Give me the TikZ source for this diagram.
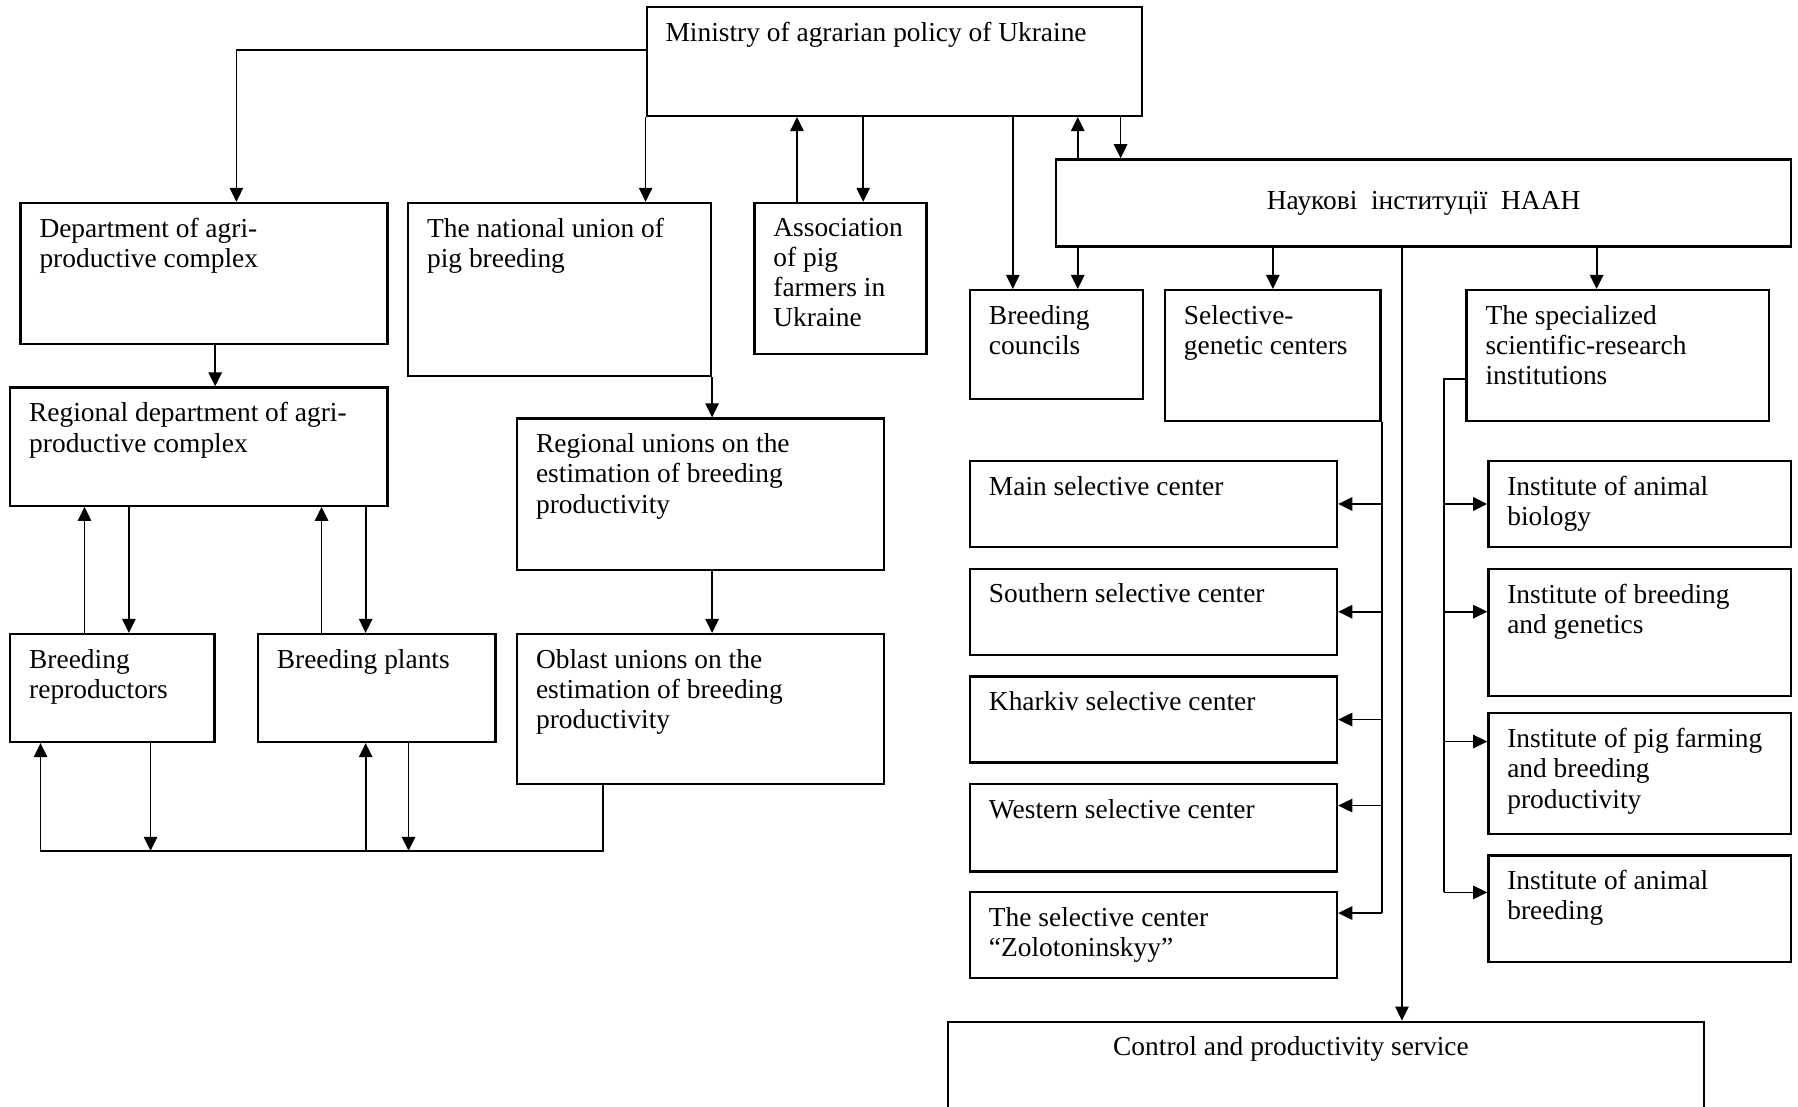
\documentclass[tikz,border=0pt]{standalone}
\usepackage{fontspec}
\setmainfont{Liberation Serif}
\usepackage{tikz}
\usetikzlibrary{positioning, fit, calc, arrows.meta}

\begin{document}
\begin{tikzpicture}[x=0.11467mm, y=-0.11467mm, font=\fontsize{7.8pt}{8.6pt}\selectfont,
	unit/.style={draw, line width=0.65pt, inner sep=0pt},
	caption/.style={anchor=north west, align=left, inner xsep=5.5pt, inner ysep=4.4pt},
	bus/.style={line width=0.5pt},
	link/.style={line width=0.5pt, -{Triangle[length=4pt, width=3.8pt]}}]
	\useasboundingbox (0,0) rectangle (1568,965);
	\clip (0,0) rectangle (1568,965);

	\node[unit, fit={(564,6) (996,101)}, label={[caption]north west:Ministry of agrarian policy of Ukraine}] (ministry) {};
	\node[unit, fit={(18,177) (338,300)}, label={[caption]north west:{Department of agri-\\productive complex}}] (dept) {};
	\node[unit, fit={(356,177) (620,328)}, label={[caption]north west:{The national union of\\pig breeding}}] (natunion) {};
	\node[unit, fit={(658,177) (808,309)}, label={[caption]north west:{Association\\of pig\\farmers in\\Ukraine}}] (assoc) {};
	\node[unit, fit={(921,139) (1562,215)}, label={[anchor=center]center:Наукові\ \ інституції\ \ НААН}] (haan) {};
	\node[unit, fit={(846,253) (997,348)}, label={[caption]north west:{Breeding\\councils}}] (councils) {};
	\node[unit, fit={(1016,253) (1204,367)}, label={[caption]north west:{Selective-\\genetic centers}}] (selgen) {};
	\node[unit, fit={(1279,253) (1543,367)}, label={[caption]north west:{The specialized\\scientific-research\\institutions}}] (special) {};

	\node[unit, fit={(9,338) (338,441)}, label={[caption]north west:{Regional department of agri-\\productive complex}}] (regdept) {};
	\node[unit, fit={(451,365) (771,497)}, label={[caption]north west:{Regional unions on the\\estimation of breeding\\productivity}}] (regunion) {};
	\node[unit, fit={(9,553) (187,647)}, label={[caption]north west:{Breeding\\reproductors}}] (reprod) {};
	\node[unit, fit={(225,553) (432,647)}, label={[caption]north west:Breeding plants}] (plants) {};
	\node[unit, fit={(451,553) (771,684)}, label={[caption]north west:{Oblast unions on the\\estimation of breeding\\productivity}}] (oblast) {};

	\node[unit, fit={(846,402) (1166,477)}, label={[caption]north west:Main selective center}] (main) {};
	\node[unit, fit={(846,496) (1166,571)}, label={[caption]north west:Southern selective center}] (southern) {};
	\node[unit, fit={(846,590) (1166,665)}, label={[caption]north west:Kharkiv selective center}] (kharkiv) {};
	\node[unit, fit={(846,684) (1166,760)}, label={[caption]north west:Western selective center}] (western) {};
	\node[unit, fit={(846,778) (1166,853)}, label={[caption]north west:{The selective center\\“Zolotoninskyy”}}] (zolot) {};

	\node[unit, fit={(1298,402) (1562,477)}, label={[caption]north west:{Institute of animal\\biology}}] (instbio) {};
	\node[unit, fit={(1298,496) (1562,607)}, label={[caption]north west:{Institute of breeding\\and genetics}}] (instbg) {};
	\node[unit, fit={(1298,622) (1562,727)}, label={[caption]north west:{Institute of pig farming\\and breeding\\productivity}}] (instpig) {};
	\node[unit, fit={(1298,746) (1562,839)}, label={[caption]north west:{Institute of animal\\breeding}}] (instab) {};

	\node[unit, fit={(827,891) (1486,985)}, label={[caption, xshift=14.6mm]north west:Control and productivity service}] (control) {};

	% ministry and the top row
	\draw[link] ($(ministry.north west)!0.4!(ministry.south west)$) -| ($(dept.north west)!0.5875!(dept.north east)$);
	\draw[link] (ministry.south west) -- (ministry.south west |- natunion.north);
	\coordinate (as-up) at ($(assoc.north west)!0.25!(assoc.north east)$);
	\coordinate (as-dn) at ($(assoc.north west)!0.63!(assoc.north east)$);
	\draw[link] (as-up) -- (as-up |- ministry.south);
	\draw[link] (as-dn |- ministry.south) -- (as-dn);

	\coordinate (bc-1) at ($(councils.north west)!0.25!(councils.north east)$);
	\coordinate (bc-2) at ($(councils.north west)!0.62!(councils.north east)$);
	\coordinate (ha-dn) at ($(haan.north west)!0.089!(haan.north east)$);
	\draw[link] (bc-1 |- ministry.south) -- (bc-1);
	\draw[link] (bc-2 |- haan.north) -- (bc-2 |- ministry.south);
	\draw[link] (ha-dn |- ministry.south) -- (ha-dn);

	% from the institutions of NAAS
	\coordinate (sp-in) at ($(special.north west)!0.43!(special.north east)$);
	\coordinate (ct-in) at ($(control.north west)!0.6!(control.north east)$);
	\draw[link] (bc-2 |- haan.south) -- (bc-2);
	\draw[link] (haan.south -| selgen.north) -- (selgen.north);
	\draw[link] (sp-in |- haan.south) -- (sp-in);
	\draw[link] (ct-in |- haan.south) -- (ct-in);

	% selective centers
	\coordinate (sc-4) at ($(western.north east)!0.25!(western.south east)$);
	\coordinate (sc-5) at ($(zolot.north east)!0.25!(zolot.south east)$);
	\draw[bus] (selgen.south east) -- (selgen.south east |- sc-5);
	\draw[link] (selgen.south east |- main.east) -- (main.east);
	\draw[link] (selgen.south east |- southern.east) -- (southern.east);
	\draw[link] (selgen.south east |- kharkiv.east) -- (kharkiv.east);
	\draw[link] (selgen.south east |- sc-4) -- (sc-4);
	\draw[link] (selgen.south east |- sc-5) -- (sc-5);

	% institutes
	\coordinate (sp-out) at ($(special.north west)!0.675!(special.south west)$);
	\coordinate (bus-r) at ($(sp-out)+(-19,0)$);
	\coordinate (in-2) at ($(instbg.north west)!0.34!(instbg.south west)$);
	\coordinate (in-3) at ($(instpig.north west)!0.24!(instpig.south west)$);
	\coordinate (in-4) at ($(instab.north west)!0.35!(instab.south west)$);
	\draw[bus] (sp-out) -- (bus-r) -- (bus-r |- in-4);
	\draw[link] (bus-r |- instbio.west) -- (instbio.west);
	\draw[link] (bus-r |- in-2) -- (in-2);
	\draw[link] (bus-r |- in-3) -- (in-3);
	\draw[link] (bus-r |- in-4) -- (in-4);

	% left part
	\coordinate (dp-out) at ($(dept.south west)!0.53!(dept.south east)$);
	\draw[link] (dp-out) -- (dp-out |- regdept.north);
	\coordinate (rp-up) at ($(reprod.north west)!0.365!(reprod.north east)$);
	\coordinate (rp-dn) at ($(reprod.north west)!0.58!(reprod.north east)$);
	\coordinate (pl-up) at ($(plants.north west)!0.27!(plants.north east)$);
	\coordinate (pl-dn) at ($(plants.north west)!0.454!(plants.north east)$);
	\draw[link] (rp-up) -- (rp-up |- regdept.south);
	\draw[link] (rp-dn |- regdept.south) -- (rp-dn);
	\draw[link] (pl-up) -- (pl-up |- regdept.south);
	\draw[link] (pl-dn |- regdept.south) -- (pl-dn);

	\draw[link] (natunion.south east) -- (natunion.south east |- regunion.north);
	\draw[link] (regunion.south -| natunion.south east) -- (oblast.north -| natunion.south east);

	\coordinate (bus-l) at ($(oblast.south west)!0.236!(oblast.south east)+(0,57)$);
	\coordinate (rp-a) at ($(reprod.south west)!0.152!(reprod.south east)$);
	\coordinate (rp-b) at ($(reprod.south west)!0.685!(reprod.south east)$);
	\coordinate (pl-a) at (plants.south -| pl-dn);
	\coordinate (pl-b) at ($(plants.south west)!0.633!(plants.south east)$);
	\draw[link] (oblast.south -| bus-l) -- (bus-l) -| (rp-a);
	\draw[link] (rp-b) -- (rp-b |- bus-l);
	\draw[link] (pl-a |- bus-l) -- (pl-a);
	\draw[link] (pl-b) -- (pl-b |- bus-l);
\end{tikzpicture}
\end{document}
